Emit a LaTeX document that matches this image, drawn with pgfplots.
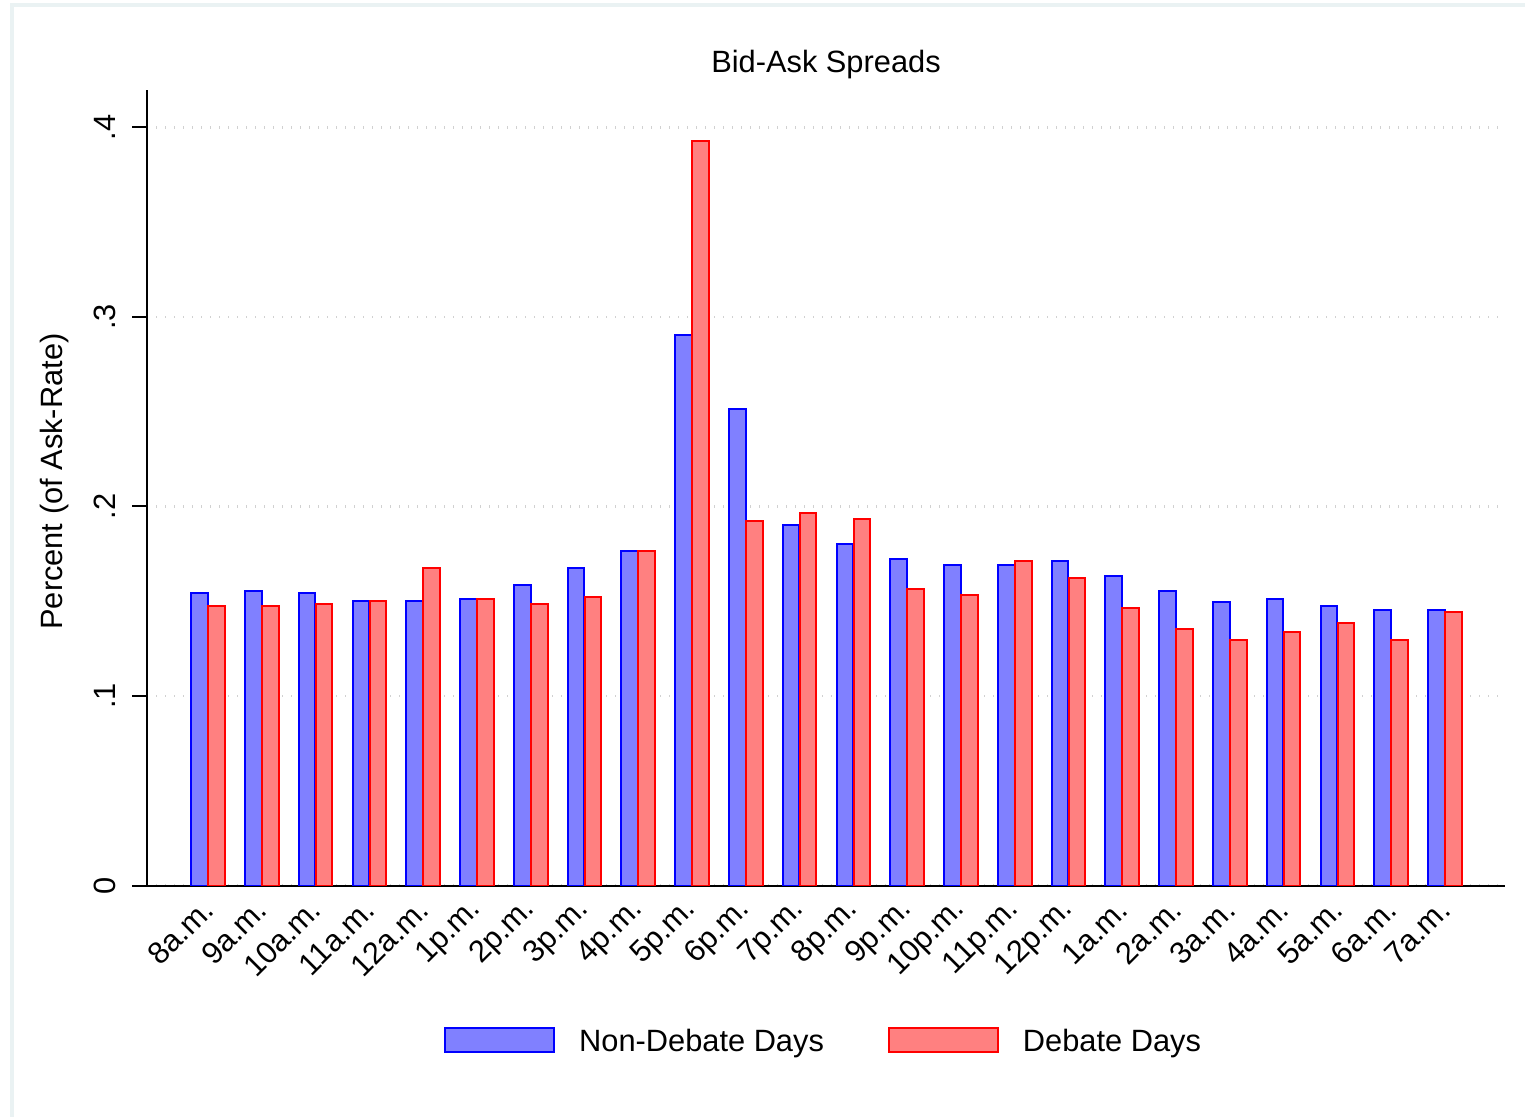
\documentclass[border=0pt]{standalone}
\usepackage{pgfplots}
\pgfplotsset{compat=1.18}
\usepackage{fontspec}
\setmainfont{Liberation Sans}
\definecolor{nbfill}{HTML}{8080FF}
\definecolor{dbfill}{HTML}{FF8080}
\definecolor{framec}{RGB}{234,242,243}
\newcommand{\chartfont}{\fontsize{15.4pt}{18pt}\selectfont}
\begin{document}
\begin{tikzpicture}
\begin{scope}[x=0.5pt,y=-0.5pt]
\useasboundingbox (0,0) rectangle (1525,1116);
\draw[framec, line width=1.75pt] (12,5) rectangle (1545,1135);
\end{scope}
\begin{axis}[
  at={(73.5pt,-442.75pt)}, anchor=south west,
  scale only axis, width=679pt, height=398pt,
  xmin=-1.134, xmax=24.116, ymin=0, ymax=0.42,
  axis lines=left, axis line style={-, line width=1pt, black},
  xtick={0,...,23},
  xticklabels={8a.m.,9a.m.,10a.m.,11a.m.,12a.m.,1p.m.,2p.m.,3p.m.,4p.m.,5p.m.,6p.m.,7p.m.,8p.m.,9p.m.,10p.m.,11p.m.,12p.m.,1a.m.,2a.m.,3a.m.,4a.m.,5a.m.,6a.m.,7a.m.},
  x tick style={draw=none},
  xticklabel style={rotate=45, anchor=east, inner sep=0pt, font=\chartfont},
  xticklabel shift=2pt,
  ytick={0,0.1,0.2,0.3,0.4}, yticklabels={0,.1,.2,.3,.4},
  y tick style={line width=1pt, black},
  major tick length=7.5pt, tick align=outside,
  yticklabel style={rotate=90, anchor=base, font=\chartfont},
  yticklabel shift=8.5pt,
  ymajorgrids,
  major grid style={black!18, line width=1.25pt, dash pattern=on 0.5pt off 4pt},
  title={Bid-Ask Spreads},
  title style={at={(axis description cs:0.5,1)}, anchor=base, yshift=2.5pt, font=\chartfont},
  ylabel={Percent (of Ask-Rate)},
  every axis y label/.style={at={(axis description cs:-0.068,0.5075)}, anchor=center, rotate=90, font=\chartfont},
  legend style={at={(axis description cs:0.4975,-0.1953)}, anchor=center, draw=none, fill=none, inner sep=0pt, font=\chartfont,
    /tikz/every odd column/.append style={column sep=12pt},
    /tikz/every even column/.append style={column sep=32pt},
    nodes={inner sep=0pt}, cells={anchor=base west}},
  legend columns=2,
]
\addplot[ybar, bar width=0.31, bar shift=-0.158, draw=blue, fill=nbfill, line width=1pt,
  legend image code/.code={\draw[draw=blue, fill=nbfill, line width=1pt] (0pt,-0.5pt) rectangle (54.5pt,11.5pt);}]
coordinates {(0,0.1544) (1,0.1554) (2,0.1544) (3,0.1501) (4,0.1501) (5,0.1512) (6,0.1586) (7,0.1675) (8,0.1765) (9,0.2905) (10,0.2514) (11,0.1902) (12,0.1802) (13,0.1723) (14,0.1691) (15,0.1691) (16,0.1712) (17,0.1633) (18,0.1554) (19,0.1496) (20,0.1512) (21,0.1475) (22,0.1454) (23,0.1454)};
\addlegendentry{Non-Debate Days}
\addplot[ybar, bar width=0.31, bar shift=0.158, draw=red, fill=dbfill, line width=1pt,
  legend image code/.code={\draw[draw=red, fill=dbfill, line width=1pt] (0pt,-0.5pt) rectangle (54.5pt,11.5pt);}]
coordinates {(0,0.1475) (1,0.1475) (2,0.1485) (3,0.1501) (4,0.1675) (5,0.1512) (6,0.1485) (7,0.1522) (8,0.1765) (9,0.3926) (10,0.1923) (11,0.1966) (12,0.1934) (13,0.1564) (14,0.1533) (15,0.1712) (16,0.1623) (17,0.1464) (18,0.1353) (19,0.1295) (20,0.1337) (21,0.1385) (22,0.1295) (23,0.1443)};
\addlegendentry{Debate Days}
\end{axis}
\end{tikzpicture}
\end{document}
